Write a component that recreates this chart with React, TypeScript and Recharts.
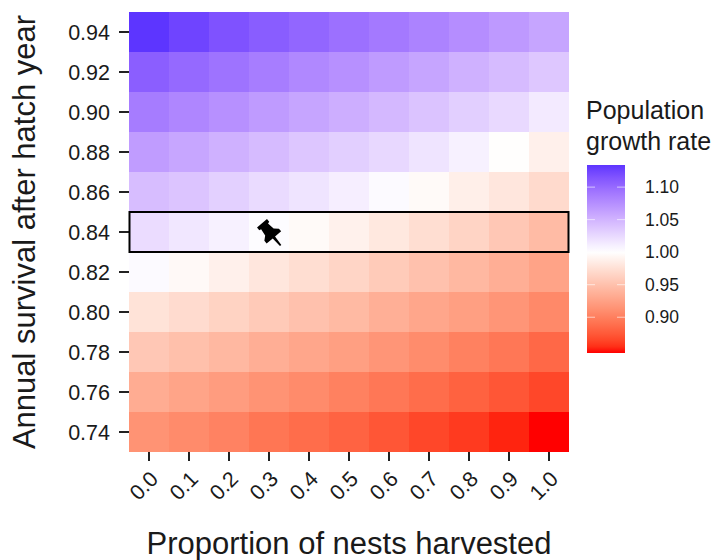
import { ScatterChart, Scatter, XAxis, YAxis } from "recharts";

const harvested = [0, 0.1, 0.2, 0.3, 0.4, 0.5, 0.6, 0.7, 0.8, 0.9, 1.0];
const survival = [0.94, 0.92, 0.9, 0.88, 0.86, 0.84, 0.82, 0.8, 0.78, 0.76, 0.74];

// growth rate, one row per survival value
const growthRates = [
  [1.134, 1.125, 1.116, 1.109, 1.103, 1.096, 1.09, 1.083, 1.076, 1.068, 1.06],
  [1.108, 1.101, 1.094, 1.087, 1.08, 1.074, 1.067, 1.06, 1.052, 1.045, 1.037],
  [1.088, 1.081, 1.074, 1.067, 1.06, 1.054, 1.047, 1.04, 1.032, 1.025, 1.014],
  [1.066, 1.059, 1.052, 1.045, 1.038, 1.032, 1.026, 1.018, 1.009, 0.999, 0.988],
  [1.044, 1.039, 1.031, 1.024, 1.018, 1.011, 1.003, 0.996, 0.987, 0.98, 0.97],
  [1.023, 1.016, 1.009, 1.002, 0.996, 0.989, 0.981, 0.973, 0.965, 0.955, 0.945],
  [1.003, 0.995, 0.988, 0.98, 0.973, 0.966, 0.958, 0.95, 0.943, 0.935, 0.926],
  [0.977, 0.971, 0.964, 0.957, 0.95, 0.944, 0.936, 0.929, 0.923, 0.916, 0.907],
  [0.955, 0.949, 0.943, 0.935, 0.929, 0.923, 0.916, 0.909, 0.901, 0.894, 0.884],
  [0.933, 0.927, 0.921, 0.914, 0.908, 0.901, 0.894, 0.887, 0.88, 0.873, 0.865],
  [0.914, 0.908, 0.902, 0.893, 0.887, 0.881, 0.873, 0.865, 0.859, 0.851, 0.845],
];

const legendTicks = [1.1, 1.05, 1.0, 0.95, 0.9];
const pinPoint = [{ x: 0.3, y: 0.84 }];
const highlightRow = [{ x: 0.5, y: 0.84 }];

const FONT = "'Liberation Sans', Arial, sans-serif";
const INK = "#1a1a1a";
const MIN_RATE = 0.845;
const MAX_RATE = 1.134;

const cells = growthRates.flatMap((row, r) =>
  row.map((rate, c) => ({ x: harvested[c], y: survival[r], rate }))
);

// ggplot style diverging fill: white at 1, interpolated in Lab
const WHITE_LAB = [100, 0, 0];
const RED_LAB = [53.24, 80.09, 67.2];
const BLUE_LAB = [32.3, 79.19, -107.86];

function labToHex([L, a, b]: number[]) {
  const fy = (L + 16) / 116;
  const fx = fy + a / 500;
  const fz = fy - b / 200;
  const inv = (t: number) => (t > 0.20689 ? t * t * t : (t - 16 / 116) / 7.787);
  const X = 0.95047 * inv(fx);
  const Y = inv(fy);
  const Z = 1.08883 * inv(fz);
  const lin = [
    3.2406 * X - 1.5372 * Y - 0.4986 * Z,
    -0.9689 * X + 1.8758 * Y + 0.0415 * Z,
    0.0557 * X - 0.204 * Y + 1.057 * Z,
  ];
  const out = lin.map((v) => {
    const c = Math.min(1, Math.max(0, v));
    const s = c <= 0.0031308 ? 12.92 * c : 1.055 * Math.pow(c, 1 / 2.4) - 0.055;
    return Math.round(s * 255).toString(16).padStart(2, "0");
  });
  return "#" + out.join("");
}

function rateColor(rate: number) {
  const t = Math.min(1, Math.abs(rate - 1) / (1 - MIN_RATE));
  const end = rate < 1 ? RED_LAB : BLUE_LAB;
  return labToHex(WHITE_LAB.map((w, i) => w + (end[i] - w) * t));
}

function HeatCell(props: any) {
  const { cx, cy, payload } = props;
  return <rect x={cx - 20} y={cy - 20} width={40} height={40} fill={rateColor(payload.rate)} />;
}

function HighlightBox(props: any) {
  const { cx, cy } = props;
  return <rect x={cx - 219.5} y={cy - 20} width={439} height={40} fill="none" stroke="#000" strokeWidth={2} />;
}

function PinMark(props: any) {
  const { cx, cy } = props;
  return (
    <g transform={`translate(${cx + 2} ${cy + 2}) rotate(-40)`} fill="#000">
      <path d="M-6.5 -14 L6.5 -14 L6.5 -10.5 L4.5 -10 L5.5 -2.5 L9.5 1 L9.5 4.5 L1.5 4.5 L0.9 15 L-0.9 15 L-1.5 4.5 L-9.5 4.5 L-9.5 1 L-5.5 -2.5 L-4.5 -10 L-6.5 -10.5 Z" />
    </g>
  );
}

function XTick(props: any) {
  const { x, y, payload } = props;
  return (
    <text
      transform={`translate(${x - 5} ${y + 23}) rotate(-45)`}
      textAnchor="middle"
      dominantBaseline="central"
      fontFamily={FONT}
      fontSize={21.5}
      fill={INK}
    >
      {payload.value.toFixed(1)}
    </text>
  );
}

function ColorBar() {
  const stops = [];
  for (let i = 0; i <= 30; i++) {
    const v = MAX_RATE - ((MAX_RATE - MIN_RATE) * i) / 30;
    stops.push(<stop key={i} offset={i / 30} stopColor={rateColor(v)} />);
  }
  const yOf = (v: number) => 165 + ((MAX_RATE - v) / (MAX_RATE - MIN_RATE)) * 188;
  return (
    <svg width={715} height={560} style={{ position: "absolute", left: 0, top: 0, pointerEvents: "none" }}>
      <defs>
        <linearGradient id="rateBar" x1="0" y1="0" x2="0" y2="1">
          {stops}
        </linearGradient>
      </defs>
      <text x={586} y={119} fontFamily={FONT} fontSize={25} fill={INK}>Population</text>
      <text x={586} y={150} fontFamily={FONT} fontSize={25} fill={INK}>growth rate</text>
      <rect x={587} y={165} width={38} height={188} fill="url(#rateBar)" />
      {legendTicks.map((v) => (
        <g key={v}>
          <line x1={587} x2={595} y1={yOf(v)} y2={yOf(v)} stroke="#fff" strokeOpacity={0.6} />
          <line x1={617} x2={625} y1={yOf(v)} y2={yOf(v)} stroke="#fff" strokeOpacity={0.6} />
          <text x={645} y={yOf(v) + 6} fontFamily={FONT} fontSize={17.5} fill={INK}>
            {v.toFixed(2)}
          </text>
        </g>
      ))}
    </svg>
  );
}

export default function App() {
  return (
    <div style={{ position: "absolute", left: 0, top: 0, width: 715, height: 560, background: "#fff" }}>
      <ScatterChart width={715} height={560} margin={{ top: 12, right: 146, bottom: 0, left: 0 }}>
        <XAxis
          type="number"
          dataKey="x"
          domain={[-0.05, 1.05]}
          ticks={harvested}
          axisLine={false}
          tickLine={{ stroke: "#222", strokeWidth: 2 }}
          tickSize={9}
          tick={<XTick />}
          height={108}
          interval={0}
          label={{
            value: "Proportion of nests harvested",
            position: "insideBottom",
            offset: 6,
            style: { fontFamily: FONT, fontSize: 31, fill: INK },
          }}
        />
        <YAxis
          type="number"
          dataKey="y"
          domain={[0.73, 0.95]}
          ticks={survival}
          axisLine={false}
          tickLine={{ stroke: "#222", strokeWidth: 2 }}
          tickSize={10}
          tickMargin={9}
          width={129}
          interval={0}
          tickFormatter={(v: number) => v.toFixed(2)}
          tick={{ fontFamily: FONT, fontSize: 21.5, fill: INK }}
          label={{
            value: "Annual survival after hatch year",
            angle: -90,
            position: "insideLeft",
            offset: 24,
            style: { fontFamily: FONT, fontSize: 31, fill: INK, textAnchor: "middle" },
          }}
        />
        <Scatter data={cells} shape={<HeatCell />} isAnimationActive={false} />
        <Scatter data={highlightRow} shape={<HighlightBox />} isAnimationActive={false} />
        <Scatter data={pinPoint} shape={<PinMark />} isAnimationActive={false} />
      </ScatterChart>
      <ColorBar />
    </div>
  );
}
